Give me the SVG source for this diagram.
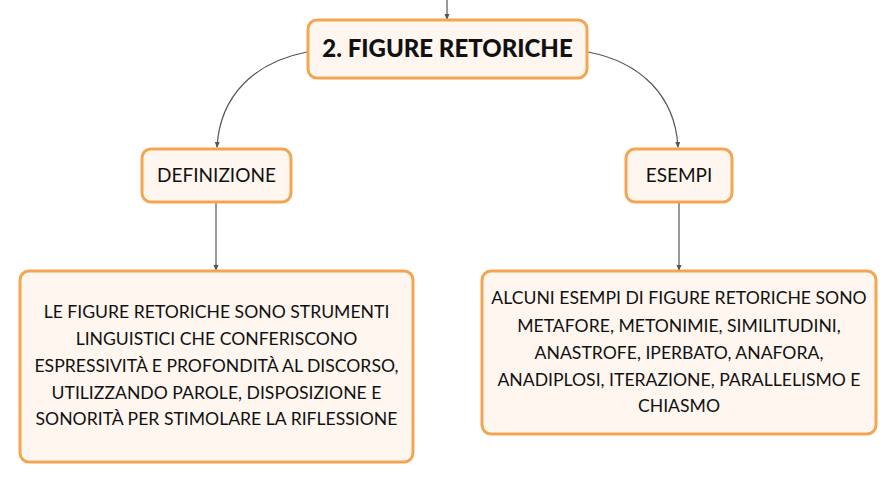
<svg xmlns="http://www.w3.org/2000/svg" width="896" height="483" viewBox="0 0 896 483">
<style>
.box{fill:#FEF6EF;stroke:#F3A552;stroke-width:3}
.t{font-family:Lato,"Noto Sans",sans-serif;font-size:17.6px;fill:#111;text-anchor:middle}
.h{font-family:Lato,"Noto Sans",sans-serif;font-size:24px;font-weight:900;fill:#111;text-anchor:middle}
.c{fill:none;stroke:#555;stroke-width:1.2;marker-end:url(#a)}
</style>
<defs>
<marker id="a" viewBox="0 0 6 6" refX="5" refY="3" markerWidth="6" markerHeight="6" orient="auto" markerUnits="userSpaceOnUse">
<path d="M0,0.5 L6,3 L0,5.5 Z" fill="#555"/>
</marker>
</defs>
<rect width="896" height="483" fill="#fff"/>
<g id="connectors">
<path class="c" d="M447,0 L447,19"/>
<path class="c" d="M307,52 C255,62 220,95 217,147"/>
<path class="c" d="M588,52 C640,62 675,95 678,147"/>
<path class="c" d="M216,202 L216,270"/>
<path class="c" d="M679,202 L679,270"/>
</g>
<g id="main">
<rect class="box" x="308" y="20" width="279" height="58" rx="9"/>
<text class="h" x="447.5" y="57">2. FIGURE RETORICHE</text>
</g>
<g id="definizione">
<rect class="box" x="142" y="149" width="149" height="53" rx="9"/>
<text class="t" x="216.5" y="182" style="font-size:19px">DEFINIZIONE</text>
</g>
<g id="esempi">
<rect class="box" x="626" y="149" width="106" height="53" rx="9"/>
<text class="t" x="679" y="182" style="font-size:19px">ESEMPI</text>
</g>
<g id="definizione-testo">
<rect class="box" x="20" y="271" width="393" height="191" rx="9"/>
<text class="t" x="216.5" y="318">LE FIGURE RETORICHE SONO STRUMENTI</text>
<text class="t" x="216.5" y="345">LINGUISTICI CHE CONFERISCONO</text>
<text class="t" x="216.5" y="372">ESPRESSIVITÀ E PROFONDITÀ AL DISCORSO,</text>
<text class="t" x="216.5" y="399">UTILIZZANDO PAROLE, DISPOSIZIONE E</text>
<text class="t" x="216.5" y="425">SONORITÀ PER STIMOLARE LA RIFLESSIONE</text>
</g>
<g id="esempi-testo">
<rect class="box" x="482" y="271" width="394" height="163" rx="9"/>
<text class="t" x="679" y="304">ALCUNI ESEMPI DI FIGURE RETORICHE SONO</text>
<text class="t" x="679" y="332">METAFORE, METONIMIE, SIMILITUDINI,</text>
<text class="t" x="679" y="359">ANASTROFE, IPERBATO, ANAFORA,</text>
<text class="t" x="679" y="386">ANADIPLOSI, ITERAZIONE, PARALLELISMO E</text>
<text class="t" x="679" y="412">CHIASMO</text>
</g>
</svg>
